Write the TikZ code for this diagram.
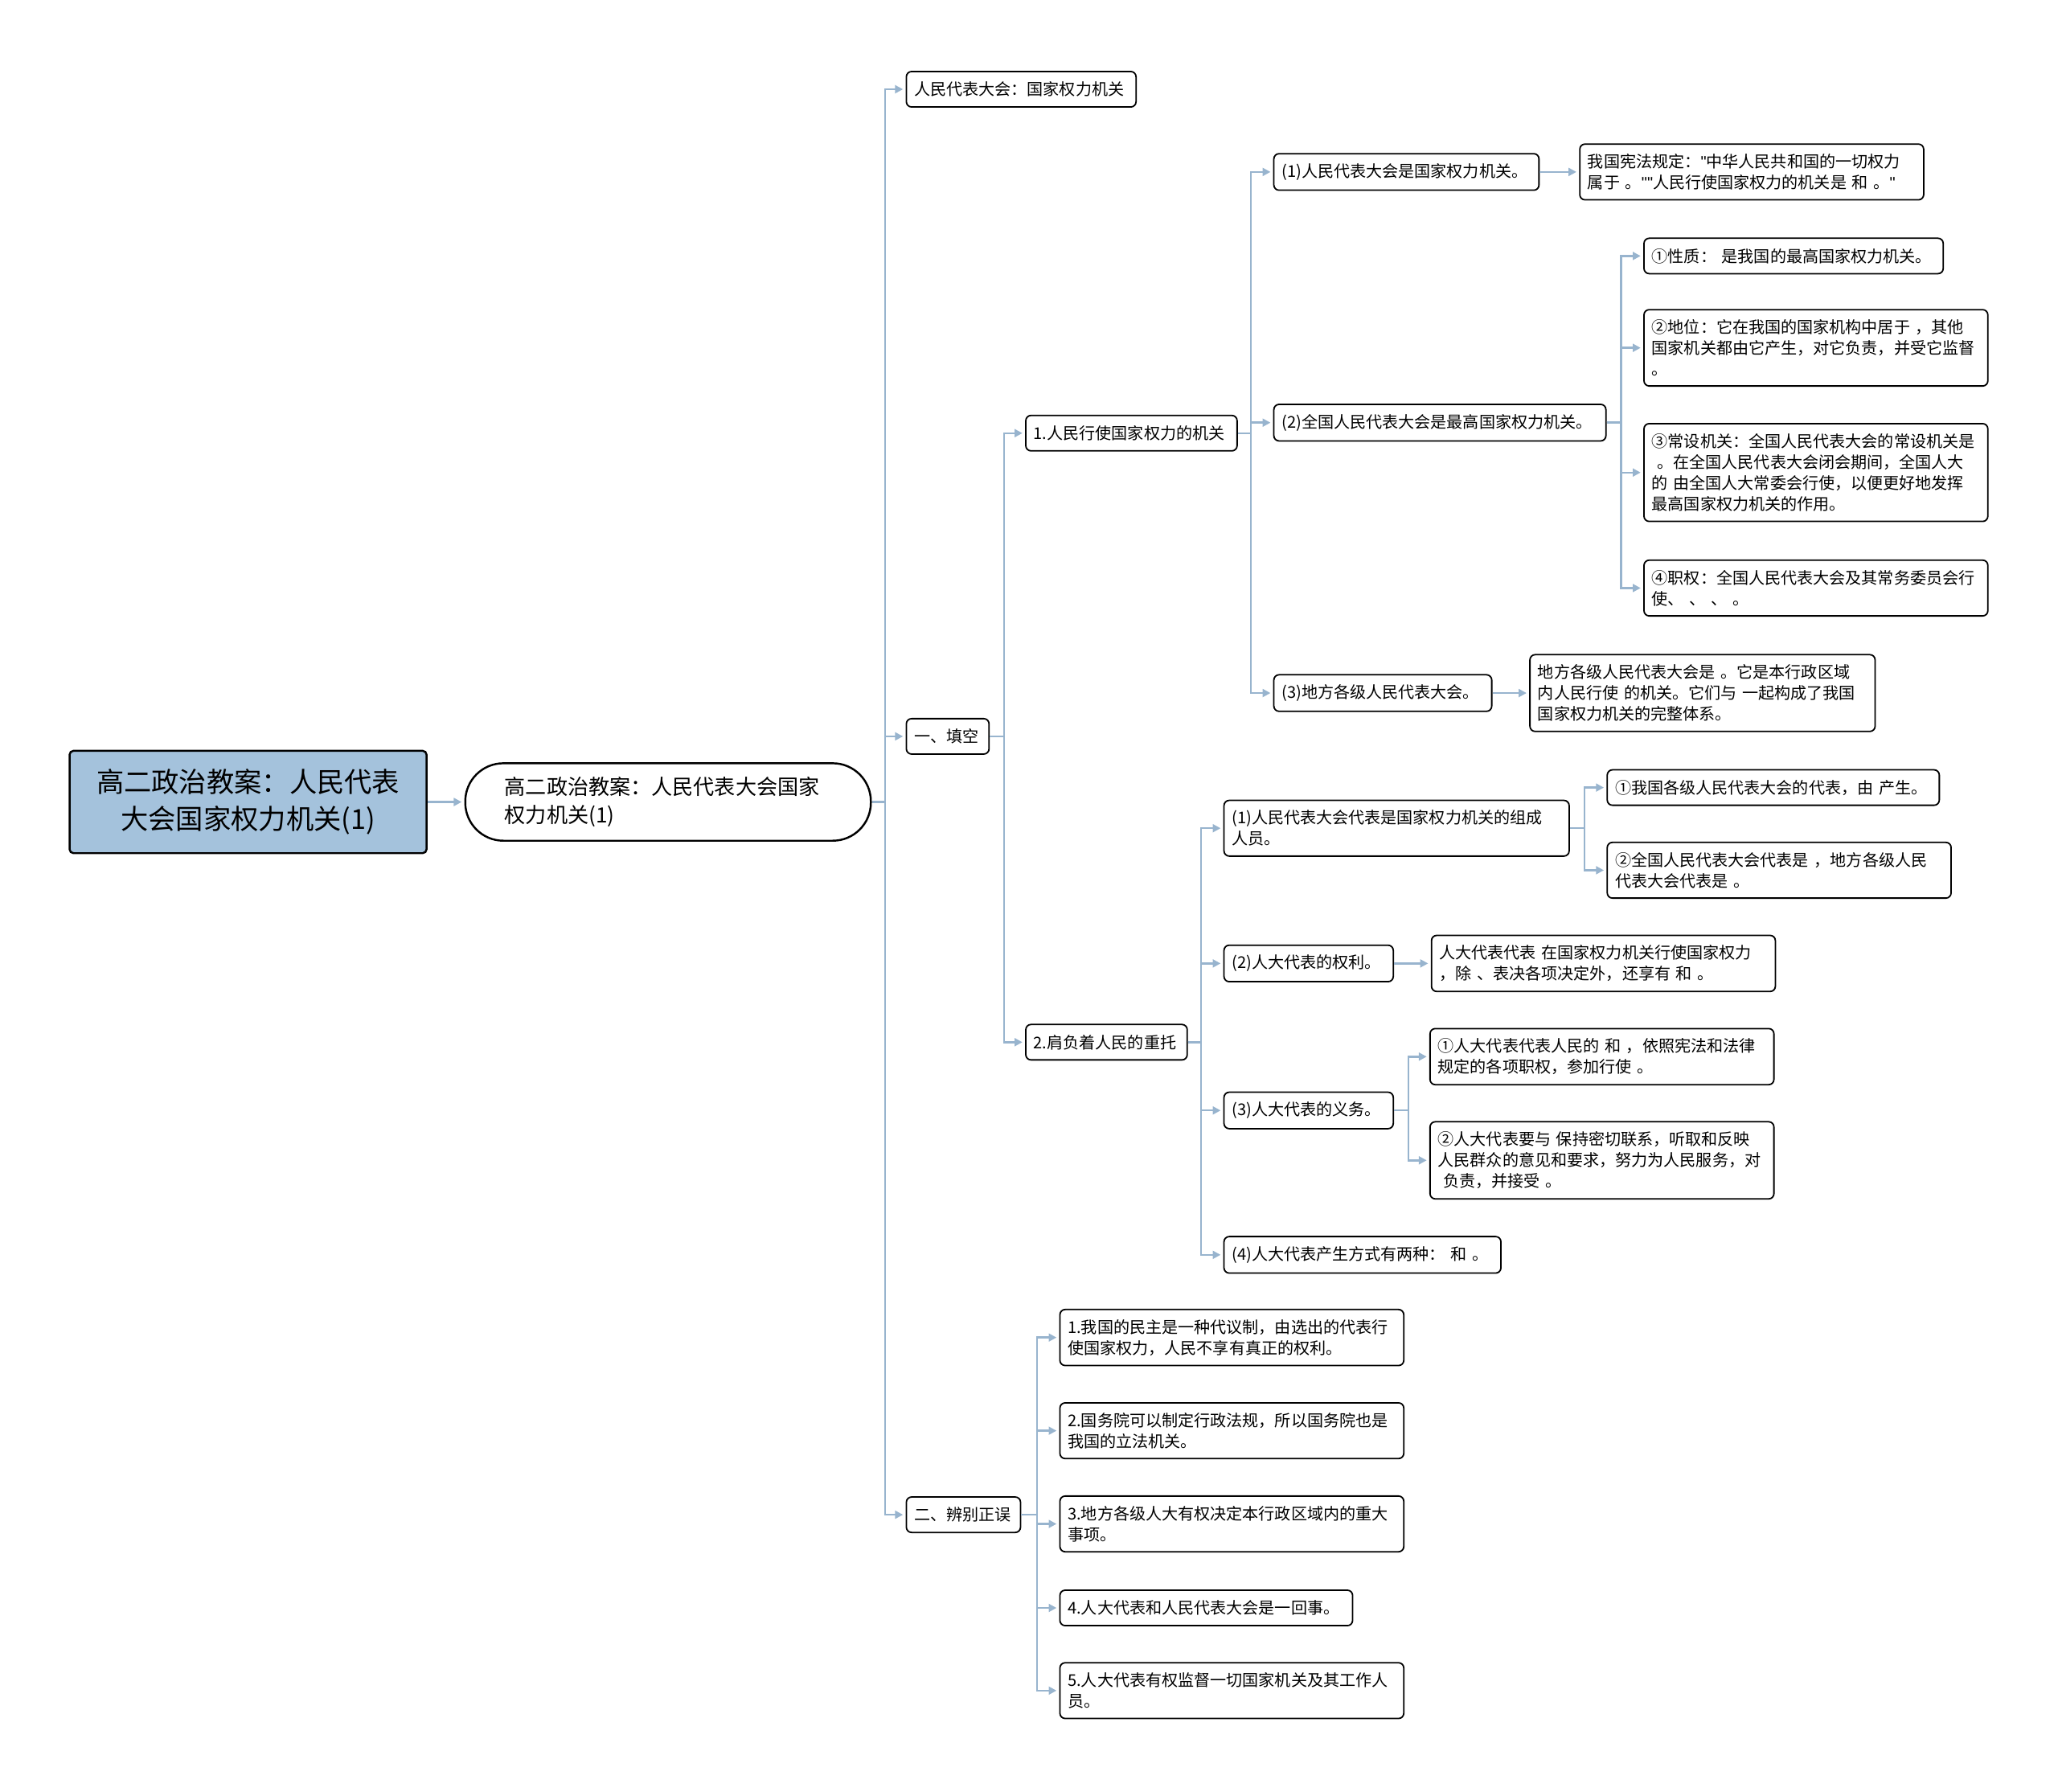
\documentclass[tikz,border=0pt]{standalone}
\usepackage{fontspec}
\setmainfont{Noto Sans CJK SC}
\newfontfamily\quotefont{Liberation Sans}
\newcommand\dq{{\quotefont"}}
\usetikzlibrary{arrows.meta,positioning}
\definecolor{linkblue}{RGB}{152,180,206}
\definecolor{rootblue}{RGB}{164,194,220}
\tikzset{
  box/.style={draw,line width=1.1pt,rounded corners=4pt,fill=white,anchor=west,
    align=left,inner xsep=6pt,inner ysep=7.5pt,minimum height=27pt,
    font=\fontsize{12.3}{16}\selectfont},
  rootbox/.style={draw,line width=1.5pt,rounded corners=3pt,fill=rootblue,
    align=center,text width=250pt,inner xsep=11pt,minimum height=78pt,
    font=\fontsize{21}{28}\selectfont},
  mainbox/.style={draw,line width=1.5pt,rounded corners=29pt,fill=white,
    align=left,text width=249pt,inner xsep=30pt,minimum height=59pt,
    font=\fontsize{16}{21}\selectfont},
  link/.style={draw=linkblue,line width=1.5pt,-{Triangle[length=6pt,width=6pt]},shorten >=2pt},
}
\begin{document}
\begin{tikzpicture}[x=1pt,y=-1pt]
\useasboundingbox (0,0) rectangle (1568,1365);

\node[rootbox] (root) at (189,611) {高二政治教案：人民代表\\大会国家权力机关(1)};
\node[mainbox,right=28pt of root] (main) {高二政治教案：人民代表大会国家\\权力机关(1)};

\node[box,text width=163pt] (guojia) at (690,68) {人民代表大会：国家权力机关};
\node[box,text width=51pt] (tiankong) at (690,561) {一、填空};
\node[box,text width=75pt] (bianbie) at (690,1154) {二、辨别正误};

% 一、填空
\node[box,text width=149pt] (jiguan) at (781,330) {1.人民行使国家权力的机关};
\node[box,text width=111pt] (zhongtuo) at (781,794) {2.肩负着人民的重托};

\node[box,text width=190pt] (rd) at (970,131) {(1)人民代表大会是国家权力机关。};
\node[box,text width=241pt] (qgrd) at (970,322) {(2)全国人民代表大会是最高国家权力机关。};
\node[box,text width=154pt] (dfrd) at (970,528) {(3)地方各级人民代表大会。};

\node[box,text width=250pt,right=30pt of rd] (xianfa) {我国宪法规定：\dq 中华人民共和国的一切权力\\属于 。\dq\dq 人民行使国家权力的机关是 和 。\dq};
\node[box,text width=216pt] (xingzhi) at (1252,195) {①性质： 是我国的最高国家权力机关。};
\node[box,text width=250pt] (diwei) at (1252,265) {②地位：它在我国的国家机构中居于 ，其他\\国家机关都由它产生，对它负责，并受它监督\\。};
\node[box,text width=250pt] (changshe) at (1252,360) {③常设机关：全国人民代表大会的常设机关是\\\ 。在全国人民代表大会闭会期间，全国人大\\的 由全国人大常委会行使，以便更好地发挥\\最高国家权力机关的作用。};
\node[box,text width=250pt] (zhiquan) at (1252,448) {④职权：全国人民代表大会及其常务委员会行\\使、 、 、 。};
\node[box,text width=251pt,right=28pt of dfrd] (difang) {地方各级人民代表大会是 。它是本行政区域\\内人民行使 的机关。它们与 一起构成了我国\\国家权力机关的完整体系。};

\node[box,text width=251pt] (daibiao) at (932,631) {(1)人民代表大会代表是国家权力机关的组成\\人员。};
\node[box,text width=117pt] (quanli) at (932,734) {(2)人大代表的权利。};
\node[box,text width=117pt] (yiwu) at (932,846) {(3)人大代表的义务。};
\node[box,text width=199pt] (chansheng) at (932,956) {(4)人大代表产生方式有两种： 和 。};

\node[box,text width=241pt] (youchan) at (1224,600) {①我国各级人民代表大会的代表，由 产生。};
\node[box,text width=250pt] (quanguo) at (1224,663) {②全国人民代表大会代表是 ，地方各级人民\\代表大会代表是 。};
\node[box,text width=250pt,right=28pt of quanli] (xiangyou) {人大代表代表 在国家权力机关行使国家权力\\，除 、表决各项决定外，还享有 和 。};
\node[box,text width=250pt] (yiwua) at (1089,805) {①人大代表代表人民的 和 ，依照宪法和法律\\规定的各项职权，参加行使 。};
\node[box,text width=250pt] (yiwub) at (1089,884) {②人大代表要与 保持密切联系，听取和反映\\人民群众的意见和要求，努力为人民服务，对\\\ 负责，并接受 。};

% 二、辨别正误
\node[box,text width=250pt] (pa) at (807,1019) {1.我国的民主是一种代议制，由选出的代表行\\使国家权力，人民不享有真正的权利。};
\node[box,text width=250pt] (pb) at (807,1090) {2.国务院可以制定行政法规，所以国务院也是\\我国的立法机关。};
\node[box,text width=250pt] (pc) at (807,1161) {3.地方各级人大有权决定本行政区域内的重大\\事项。};
\node[box,text width=211pt] (pd) at (807,1225) {4.人大代表和人民代表大会是一回事。};
\node[box,text width=250pt] (pe) at (807,1288) {5.人大代表有权监督一切国家机关及其工作人\\员。};

\draw[link] (root) -- (main);
\foreach \c in {guojia,tiankong,bianbie}
  \draw[link] (main.east) -- ++(10,0) |- (\c.west);
\foreach \c in {jiguan,zhongtuo}
  \draw[link] (tiankong.east) -- ++(11,0) |- (\c.west);
\foreach \c in {rd,qgrd,dfrd}
  \draw[link] (jiguan.east) -- ++(10,0) |- (\c.west);
\draw[link] (rd) -- (xianfa);
\foreach \c in {xingzhi,diwei,changshe,zhiquan}
  \draw[link] (qgrd.east) -- ++(11,0) |- (\c.west);
\draw[link] (dfrd) -- (difang);
\foreach \c in {daibiao,quanli,yiwu,chansheng}
  \draw[link] (zhongtuo.east) -- ++(10,0) |- (\c.west);
\foreach \c in {youchan,quanguo}
  \draw[link] (daibiao.east) -- ++(11,0) |- (\c.west);
\draw[link] (quanli) -- (xiangyou);
\foreach \c in {yiwua,yiwub}
  \draw[link] (yiwu.east) -- ++(11,0) |- (\c.west);
\foreach \c in {pa,pb,pc,pd,pe}
  \draw[link] (bianbie.east) -- ++(12,0) |- (\c.west);
\end{tikzpicture}
\end{document}
